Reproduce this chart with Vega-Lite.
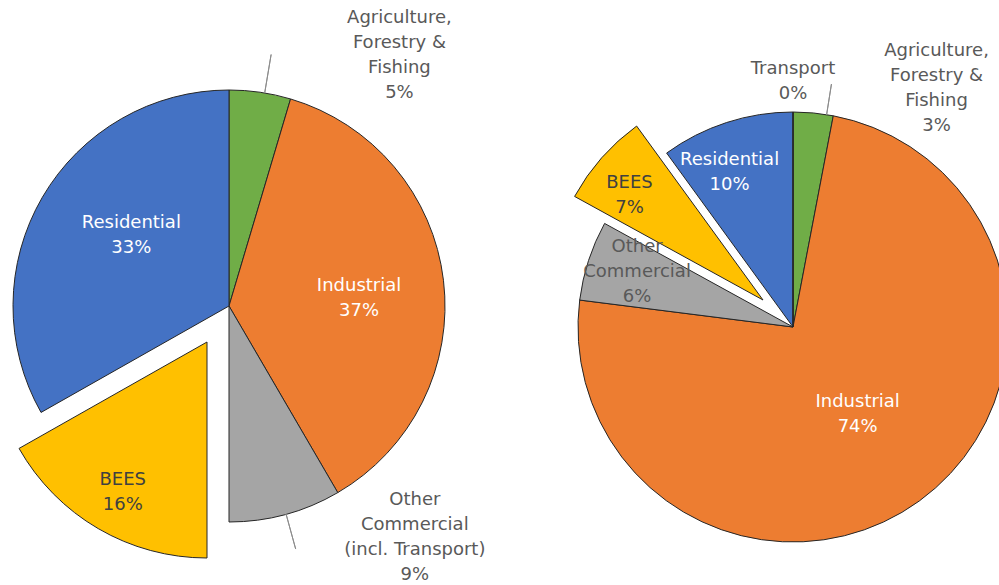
{
  "$schema": "https://vega.github.io/schema/vega-lite/v6.json",
  "width": 999,
  "height": 585,
  "autosize": "none",
  "padding": 0,
  "background": "white",
  "config": {"view": {"stroke": null}},
  "data": {
    "values": [
      {"chart": "A", "rank": 1, "key": "Agriculture", "value": 4.6, "label": "Agriculture,\nForestry &\nFishing\n5%"},
      {"chart": "A", "rank": 2, "key": "Industrial", "value": 37.0, "label": "Industrial\n37%"},
      {"chart": "A", "rank": 3, "key": "Other Commercial", "value": 8.4, "label": "Other\nCommercial\n(incl. Transport)\n9%"},
      {"chart": "A", "rank": 4, "key": "BEES", "value": 16.8, "label": "BEES\n16%"},
      {"chart": "A", "rank": 5, "key": "Residential", "value": 33.2, "label": "Residential\n33%"},
      {"chart": "B", "rank": 1, "key": "Agriculture", "value": 3.0, "label": "Agriculture,\nForestry &\nFishing\n3%"},
      {"chart": "B", "rank": 2, "key": "Industrial", "value": 74.0, "label": "Industrial\n74%"},
      {"chart": "B", "rank": 3, "key": "Other Commercial", "value": 6.0, "label": "Other\nCommercial\n6%"},
      {"chart": "B", "rank": 4, "key": "BEES", "value": 7.0, "label": "BEES\n7%"},
      {"chart": "B", "rank": 5, "key": "Residential", "value": 10.0, "label": "Residential\n10%"},
      {"chart": "B", "rank": 6, "key": "Transport", "value": 0.0, "label": "Transport\n0%"}
    ]
  },
  "encoding": {
    "x": {"field": "chart", "type": "nominal", "scale": {"type": "point", "domain": ["A", "B"], "range": [229, 793], "padding": 0}, "axis": null},
    "y": {"field": "chart", "type": "nominal", "scale": {"type": "point", "domain": ["A", "B"], "range": [306, 327], "padding": 0}, "axis": null}
  },
  "layer": [
    {
      "transform": [
        {"filter": "datum.chart === 'A'"},
        {"stack": "value", "groupby": ["chart"], "sort": [{"field": "rank", "order": "ascending"}], "as": ["v0", "v1"]}
      ],
      "layer": [
        {
          "transform": [{"filter": "datum.key !== 'BEES'"}],
          "mark": {"type": "arc", "outerRadius": 216, "stroke": "#262626", "strokeWidth": 1},
          "encoding": {
            "theta": {"field": "v0", "type": "quantitative", "scale": {"domain": [0, 100]}},
            "theta2": {"field": "v1"},
            "color": {"field": "key", "type": "nominal", "legend": null, "scale": {"domain": ["Agriculture", "Industrial", "Other Commercial", "BEES", "Residential", "Transport"], "range": ["#70AD47", "#ED7D31", "#A5A5A5", "#FFC000", "#4472C4", "#5B9BD5"]}}
          }
        },
        {
          "transform": [{"filter": "datum.key === 'BEES'"}],
          "mark": {"type": "arc", "outerRadius": 216, "stroke": "#262626", "strokeWidth": 1, "xOffset": -22, "yOffset": 36},
          "encoding": {
            "theta": {"field": "v0", "type": "quantitative", "scale": {"domain": [0, 100]}},
            "theta2": {"field": "v1"},
            "color": {"field": "key", "type": "nominal", "legend": null}
          }
        },
        {
          "transform": [{"filter": "datum.key === 'Agriculture'"}],
          "mark": {"type": "arc", "innerRadius": 216, "outerRadius": 255, "filled": false, "color": "#8c8c8c", "strokeWidth": 1, "thetaOffset": 0.166, "theta2Offset": 0.166},
          "encoding": {
            "theta": {"field": "v0", "type": "quantitative", "scale": {"domain": [0, 100]}},
            "theta2": {"field": "v0"}
          }
        },
        {
          "transform": [{"filter": "datum.key === 'Other Commercial'"}],
          "mark": {"type": "arc", "innerRadius": 216, "outerRadius": 252, "filled": false, "color": "#8c8c8c", "strokeWidth": 1, "thetaOffset": 0.26, "theta2Offset": 0.26},
          "encoding": {
            "theta": {"field": "v0", "type": "quantitative", "scale": {"domain": [0, 100]}},
            "theta2": {"field": "v0"}
          }
        },
        {
          "mark": {"type": "text", "radius": 120, "dx": 6, "dy": -22.5, "font": "DejaVu Sans", "fontSize": 18, "lineHeight": 25, "lineBreak": "\n", "align": "center", "baseline": "middle", "color": "#ffffff"},
          "encoding": {
            "theta": {"field": "value", "type": "quantitative", "stack": true, "scale": {"domain": [0, 100]}},
            "order": {"field": "rank", "type": "quantitative"},
            "text": {"condition": {"test": "datum.key === 'Residential'", "field": "label"}, "value": ""}
          }
        },
        {
          "mark": {"type": "text", "radius": 130, "dx": 1, "dy": -4.5, "font": "DejaVu Sans", "fontSize": 18, "lineHeight": 25, "lineBreak": "\n", "align": "center", "baseline": "middle", "color": "#ffffff"},
          "encoding": {
            "theta": {"field": "value", "type": "quantitative", "stack": true, "scale": {"domain": [0, 100]}},
            "order": {"field": "rank", "type": "quantitative"},
            "text": {"condition": {"test": "datum.key === 'Industrial'", "field": "label"}, "value": ""}
          }
        },
        {
          "mark": {"type": "text", "radius": 215, "dx": 2, "dy": -11.5, "font": "DejaVu Sans", "fontSize": 18, "lineHeight": 25, "lineBreak": "\n", "align": "center", "baseline": "middle", "color": "#404040"},
          "encoding": {
            "theta": {"field": "value", "type": "quantitative", "stack": true, "scale": {"domain": [0, 100]}},
            "order": {"field": "rank", "type": "quantitative"},
            "text": {"condition": {"test": "datum.key === 'BEES'", "field": "label"}, "value": ""}
          }
        },
        {
          "mark": {"type": "text", "radius": 260, "dx": 133, "dy": -30.5, "font": "DejaVu Sans", "fontSize": 18, "lineHeight": 25, "lineBreak": "\n", "align": "center", "baseline": "middle", "color": "#595959"},
          "encoding": {
            "theta": {"field": "value", "type": "quantitative", "stack": true, "scale": {"domain": [0, 100]}},
            "order": {"field": "rank", "type": "quantitative"},
            "text": {"condition": {"test": "datum.key === 'Agriculture'", "field": "label"}, "value": ""}
          }
        },
        {
          "mark": {"type": "text", "radius": 260, "dx": 118, "dy": -56.5, "font": "DejaVu Sans", "fontSize": 18, "lineHeight": 25, "lineBreak": "\n", "align": "center", "baseline": "middle", "color": "#595959"},
          "encoding": {
            "theta": {"field": "value", "type": "quantitative", "stack": true, "scale": {"domain": [0, 100]}},
            "order": {"field": "rank", "type": "quantitative"},
            "text": {"condition": {"test": "datum.key === 'Other Commercial'", "field": "label"}, "value": ""}
          }
        }
      ]
    },
    {
      "transform": [
        {"filter": "datum.chart === 'B'"},
        {"stack": "value", "groupby": ["chart"], "sort": [{"field": "rank", "order": "ascending"}], "as": ["v0", "v1"]}
      ],
      "layer": [
        {
          "transform": [{"filter": "datum.key !== 'BEES'"}],
          "mark": {"type": "arc", "outerRadius": 215, "stroke": "#262626", "strokeWidth": 1},
          "encoding": {
            "theta": {"field": "v0", "type": "quantitative", "scale": {"domain": [0, 100]}},
            "theta2": {"field": "v1"},
            "color": {"field": "key", "type": "nominal", "legend": null}
          }
        },
        {
          "transform": [{"filter": "datum.key === 'BEES'"}],
          "mark": {"type": "arc", "outerRadius": 215, "stroke": "#262626", "strokeWidth": 1, "xOffset": -30, "yOffset": -27},
          "encoding": {
            "theta": {"field": "v0", "type": "quantitative", "scale": {"domain": [0, 100]}},
            "theta2": {"field": "v1"},
            "color": {"field": "key", "type": "nominal", "legend": null}
          }
        },
        {
          "transform": [{"filter": "datum.key === 'Agriculture'"}],
          "mark": {"type": "arc", "innerRadius": 215, "outerRadius": 246, "filled": false, "color": "#8c8c8c", "strokeWidth": 1, "thetaOffset": 0.157, "theta2Offset": 0.157},
          "encoding": {
            "theta": {"field": "v0", "type": "quantitative", "scale": {"domain": [0, 100]}},
            "theta2": {"field": "v0"}
          }
        },
        {
          "mark": {"type": "text", "radius": 246, "dx": 0, "dy": -12.5, "font": "DejaVu Sans", "fontSize": 18, "lineHeight": 25, "lineBreak": "\n", "align": "center", "baseline": "middle", "color": "#595959"},
          "encoding": {
            "theta": {"field": "value", "type": "quantitative", "stack": true, "scale": {"domain": [0, 100]}},
            "order": {"field": "rank", "type": "quantitative"},
            "text": {"condition": {"test": "datum.key === 'Transport'", "field": "label"}, "value": ""}
          }
        },
        {
          "mark": {"type": "text", "radius": 250, "dx": 120, "dy": -27.5, "font": "DejaVu Sans", "fontSize": 18, "lineHeight": 25, "lineBreak": "\n", "align": "center", "baseline": "middle", "color": "#595959"},
          "encoding": {
            "theta": {"field": "value", "type": "quantitative", "stack": true, "scale": {"domain": [0, 100]}},
            "order": {"field": "rank", "type": "quantitative"},
            "text": {"condition": {"test": "datum.key === 'Agriculture'", "field": "label"}, "value": ""}
          }
        },
        {
          "mark": {"type": "text", "radius": 160, "dx": -14, "dy": -14.5, "font": "DejaVu Sans", "fontSize": 18, "lineHeight": 25, "lineBreak": "\n", "align": "center", "baseline": "middle", "color": "#ffffff"},
          "encoding": {
            "theta": {"field": "value", "type": "quantitative", "stack": true, "scale": {"domain": [0, 100]}},
            "order": {"field": "rank", "type": "quantitative"},
            "text": {"condition": {"test": "datum.key === 'Residential'", "field": "label"}, "value": ""}
          }
        },
        {
          "mark": {"type": "text", "radius": 210, "dx": -6, "dy": -5.5, "font": "DejaVu Sans", "fontSize": 18, "lineHeight": 25, "lineBreak": "\n", "align": "center", "baseline": "middle", "color": "#404040"},
          "encoding": {
            "theta": {"field": "value", "type": "quantitative", "stack": true, "scale": {"domain": [0, 100]}},
            "order": {"field": "rank", "type": "quantitative"},
            "text": {"condition": {"test": "datum.key === 'BEES'", "field": "label"}, "value": ""}
          }
        },
        {
          "mark": {"type": "text", "radius": 165, "dx": 1, "dy": -29, "font": "DejaVu Sans", "fontSize": 18, "lineHeight": 25, "lineBreak": "\n", "align": "center", "baseline": "middle", "color": "#595959"},
          "encoding": {
            "theta": {"field": "value", "type": "quantitative", "stack": true, "scale": {"domain": [0, 100]}},
            "order": {"field": "rank", "type": "quantitative"},
            "text": {"condition": {"test": "datum.key === 'Other Commercial'", "field": "label"}, "value": ""}
          }
        },
        {
          "mark": {"type": "text", "radius": 110, "dx": 0, "dy": -13.5, "font": "DejaVu Sans", "fontSize": 18, "lineHeight": 25, "lineBreak": "\n", "align": "center", "baseline": "middle", "color": "#ffffff"},
          "encoding": {
            "theta": {"field": "value", "type": "quantitative", "stack": true, "scale": {"domain": [0, 100]}},
            "order": {"field": "rank", "type": "quantitative"},
            "text": {"condition": {"test": "datum.key === 'Industrial'", "field": "label"}, "value": ""}
          }
        }
      ]
    }
  ]
}
